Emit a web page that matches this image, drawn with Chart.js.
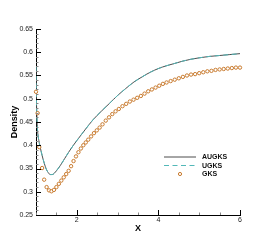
<!DOCTYPE html>
<html><head><meta charset="utf-8">
<script src="https://cdn.jsdelivr.net/npm/chart.js@4/dist/chart.umd.min.js"></script>
<style>html,body{margin:0;padding:0;background:#fff;}#wrap{width:273px;height:242px;}</style>
</head><body><div id="wrap"><canvas id="c" width="273" height="242"></canvas></div>
<script>
// ---- data ----
const augksX = [1.000,1.005,1.01,1.02,1.04,1.07,1.10,1.15,1.20,1.25,1.30,1.35,1.40,1.45,1.50,1.60,1.70,1.80,1.90,2.00,2.20,2.40,2.60,2.80,3.00,3.20,3.40,3.60,3.80,4.00,4.20,4.40,4.60,4.80,5.00,5.25,5.50,5.75,6.00];
const augksY = [0.570,0.530,0.500,0.465,0.430,0.410,0.397,0.378,0.362,0.349,0.341,0.337,0.337,0.340,0.345,0.357,0.371,0.385,0.398,0.410,0.433,0.455,0.473,0.490,0.507,0.522,0.536,0.547,0.557,0.565,0.571,0.576,0.581,0.585,0.588,0.591,0.593,0.595,0.597];
const ugksX  = [1.000,1.005,1.01,1.02,1.04,1.07,1.10,1.15,1.20,1.25,1.30,1.35,1.40,1.45,1.50,1.60,1.70,1.80,1.90,2.00,2.20,2.40,2.60,2.80,3.00,3.20,3.40,3.60,3.80,4.00,4.20,4.40,4.60,4.80,5.00,5.25,5.50,5.75,6.00];
const ugksY  = [0.570,0.530,0.500,0.465,0.430,0.410,0.397,0.378,0.362,0.349,0.341,0.337,0.337,0.340,0.345,0.357,0.371,0.385,0.398,0.410,0.433,0.455,0.473,0.490,0.507,0.522,0.536,0.547,0.557,0.565,0.571,0.576,0.581,0.585,0.588,0.591,0.593,0.595,0.597];
const gksX = [1.00,1.04,1.08,1.15,1.20,1.26,1.32,1.38,1.44,1.50,1.56,1.62,1.68,1.74,1.80,1.86,1.92,1.98,2.04,2.10,2.16,2.22,2.28,2.35,2.42,2.49,2.56,2.63,2.71,2.79,2.87,2.95,3.03,3.12,3.21,3.30,3.39,3.48,3.57,3.66,3.75,3.84,3.93,4.02,4.11,4.20,4.30,4.40,4.50,4.60,4.70,4.80,4.90,5.00,5.10,5.20,5.30,5.40,5.50,5.60,5.70,5.80,5.90,6.00];
const gksY = [0.515,0.469,0.396,0.351,0.326,0.310,0.303,0.301,0.304,0.310,0.317,0.324,0.331,0.338,0.345,0.355,0.366,0.376,0.385,0.393,0.400,0.406,0.412,0.419,0.426,0.432,0.438,0.445,0.453,0.460,0.467,0.473,0.478,0.484,0.489,0.494,0.498,0.502,0.506,0.511,0.516,0.520,0.524,0.528,0.532,0.535,0.538,0.541,0.544,0.547,0.550,0.552,0.553,0.555,0.557,0.559,0.560,0.562,0.563,0.564,0.565,0.566,0.567,0.567];
const xMajorTicks = [2, 4, 6];
const xMinorTicks = [1, 1.5, 2.5, 3, 3.5, 4.5, 5, 5.5];
const yMajorTicks = [0.25, 0.3, 0.35, 0.4, 0.45, 0.5, 0.55, 0.6, 0.65];
const seriesNames = ['AUGKS', 'UGKS', 'GKS'];

const toPts = (xs, ys) => xs.map((x, i) => ({x: x, y: ys[i]}));
const yMinorTicks = [];
for (let k = 25; k <= 65; k++) { const v = k / 100; if (!yMajorTicks.some(m => Math.abs(m - v) < 1e-9)) yMinorTicks.push(v); }

const FONT = "'Liberation Sans', Arial, sans-serif";
const cAUG = '#4d4d4d', cUG = '#52b8b8', cG = '#c87a2e';

const tickPlugin = {
  id: 'innerTicks',
  afterDatasetsDraw(chart) {
    const ctx = chart.ctx, xs = chart.scales.x, ys = chart.scales.y, a = chart.chartArea;
    ctx.save();
    ctx.lineWidth = 1;
    const drawX = (v, len) => { const p = Math.round(xs.getPixelForValue(v)) + 0.5; ctx.beginPath(); ctx.moveTo(p, a.bottom); ctx.lineTo(p, a.bottom - len); ctx.stroke(); };
    const drawY = (v, len) => { const p = Math.round(ys.getPixelForValue(v)) + 0.5; ctx.beginPath(); ctx.moveTo(a.left, p); ctx.lineTo(a.left + len, p); ctx.stroke(); };
    ctx.strokeStyle = '#888';
    xMinorTicks.forEach(v => drawX(v, 2.5));
    yMinorTicks.forEach(v => drawY(v, 2.5));
    ctx.strokeStyle = '#000';
    xMajorTicks.forEach(v => drawX(v, 5));
    yMajorTicks.forEach(v => drawY(v, 5));
    // legend
    const lx0 = 164, lx1 = 196, tx = 202, ly = [157, 165.5, 174];
    ctx.lineWidth = 1;
    ctx.strokeStyle = cAUG; ctx.setLineDash([]);
    ctx.beginPath(); ctx.moveTo(lx0, ly[0]); ctx.lineTo(lx1, ly[0]); ctx.stroke();
    ctx.strokeStyle = cUG; ctx.setLineDash([5, 3.5]);
    ctx.beginPath(); ctx.moveTo(lx0, ly[1]); ctx.lineTo(lx1, ly[1]); ctx.stroke();
    ctx.setLineDash([]);
    ctx.strokeStyle = cG; ctx.fillStyle = '#fff';
    ctx.beginPath(); ctx.arc((lx0 + lx1) / 2, ly[2], 1.6, 0, Math.PI * 2); ctx.fill(); ctx.stroke();
    ctx.fillStyle = '#111'; ctx.font = 'bold 7px ' + FONT; ctx.textBaseline = 'middle'; ctx.textAlign = 'left';
    seriesNames.forEach((n, i) => ctx.fillText(n, tx, ly[i] + 0.5));
    ctx.restore();
  }
};

new Chart(document.getElementById('c'), {
  type: 'scatter',
  data: {
    datasets: [
      {label: seriesNames[2], data: toPts(gksX, gksY), showLine: false, clip: false, pointStyle: 'circle', pointRadius: 1.7, pointBorderWidth: 1, pointBorderColor: cG, pointBackgroundColor: '#fff', order: 0},
      {label: seriesNames[1], data: toPts(ugksX, ugksY), showLine: true, borderColor: cUG, borderWidth: 1, borderDash: [5, 3.5], pointRadius: 0, cubicInterpolationMode: 'monotone', order: 1},
      {label: seriesNames[0], data: toPts(augksX, augksY), showLine: true, borderColor: cAUG, borderWidth: 1, pointRadius: 0, cubicInterpolationMode: 'monotone', order: 2}
    ]
  },
  options: {
    responsive: false, animation: false, devicePixelRatio: 1,
    layout: {padding: {left: 0, top: 29, right: 33, bottom: 0}},
    plugins: {legend: {display: false}, tooltip: {enabled: false}},
    scales: {
      x: {
        type: 'linear', min: 1, max: 6,
        afterBuildTicks: s => { s.ticks = xMajorTicks.map(v => ({value: v})); },
        afterFit: s => { s.height = 27; },
        grid: {display: false, drawTicks: false},
        border: {display: true, color: '#000', width: 1},
        ticks: {autoSkip: false, maxRotation: 0, padding: 1, color: '#222', font: {family: FONT, size: 7}, callback: v => String(v)},
        title: {display: true, text: 'X', color: '#000', font: {family: FONT, size: 9, weight: 'bold'}, padding: {top: 0, bottom: 8}}
      },
      y: {
        type: 'linear', min: 0.25, max: 0.65,
        afterBuildTicks: s => { s.ticks = yMajorTicks.map(v => ({value: v})); },
        afterFit: s => { s.width = 36; },
        grid: {display: false, drawTicks: false},
        border: {display: true, color: '#000', width: 1},
        ticks: {autoSkip: false, padding: 3, color: '#222', font: {family: FONT, size: 7}, callback: v => String(Number(v.toFixed(2)))},
        title: {display: true, text: 'Density', color: '#000', font: {family: FONT, size: 9, weight: 'bold'}, padding: {top: 9, bottom: 0}}
      }
    }
  },
  plugins: [tickPlugin]
});
</script></body></html>
